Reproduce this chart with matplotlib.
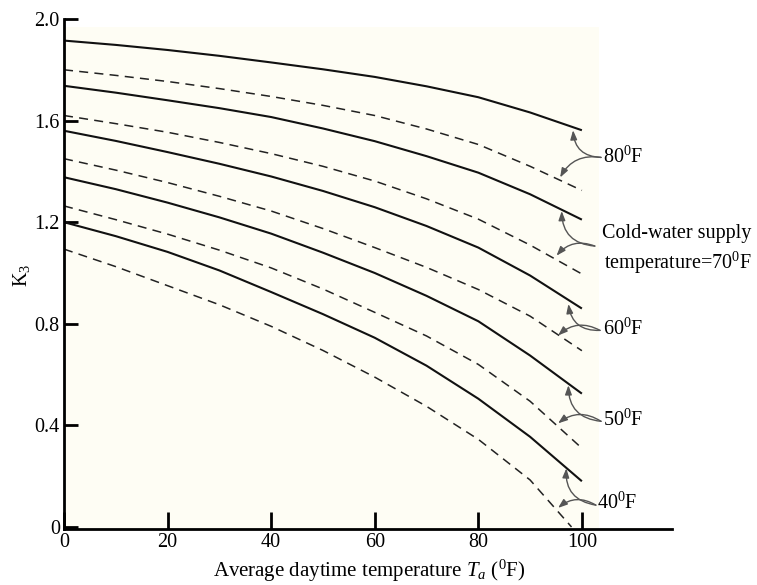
import matplotlib
matplotlib.use("Agg")
import matplotlib.pyplot as plt
from matplotlib.patches import Rectangle

plt.rcParams["font.family"] = ["Liberation Serif", "DejaVu Serif"]
plt.rcParams["mathtext.fontset"] = "custom"
plt.rcParams["mathtext.rm"] = "Liberation Serif"
plt.rcParams["mathtext.it"] = "Liberation Serif:italic"
plt.rcParams["lines.scale_dashes"] = False

# average daytime temperature (F)
temps = [0, 10, 20, 30, 40, 50, 60, 70, 80, 90, 100]
# K3, solid / dashed pair for each cold-water supply temperature
k3_80_solid = [1.915, 1.898, 1.878, 1.855, 1.829, 1.802, 1.772, 1.735, 1.692, 1.632, 1.562]
k3_80_dash = [1.800, 1.778, 1.754, 1.726, 1.695, 1.660, 1.620, 1.567, 1.506, 1.420, 1.325]
k3_70_solid = [1.737, 1.710, 1.680, 1.649, 1.614, 1.569, 1.519, 1.460, 1.395, 1.310, 1.210]
k3_70_dash = [1.620, 1.588, 1.554, 1.514, 1.470, 1.420, 1.362, 1.292, 1.212, 1.110, 0.996]
k3_60_solid = [1.560, 1.520, 1.476, 1.430, 1.380, 1.323, 1.259, 1.185, 1.100, 0.990, 0.860]
k3_60_dash = [1.450, 1.405, 1.356, 1.302, 1.244, 1.175, 1.100, 1.022, 0.935, 0.830, 0.694]
k3_50_solid = [1.377, 1.330, 1.277, 1.219, 1.155, 1.080, 1.000, 0.910, 0.810, 0.675, 0.525]
k3_50_dash = [1.264, 1.210, 1.153, 1.090, 1.020, 0.937, 0.845, 0.752, 0.640, 0.495, 0.310]
k3_40_solid = [1.200, 1.145, 1.083, 1.010, 0.925, 0.838, 0.745, 0.635, 0.505, 0.355, 0.180]
temps_40_dash = [0, 10, 20, 30, 40, 50, 60, 70, 80, 90, 98]
k3_40_dash = [1.094, 1.025, 0.950, 0.875, 0.790, 0.695, 0.590, 0.475, 0.345, 0.185, 0.0]

solid_curves = [k3_80_solid, k3_70_solid, k3_60_solid, k3_50_solid, k3_40_solid]
dashed_curves = [(temps, k3_80_dash), (temps, k3_70_dash), (temps, k3_60_dash),
                 (temps, k3_50_dash), (temps_40_dash, k3_40_dash)]

# labels and arrow ends
labels = ["80$^0$F", "Cold-water supply\ntemperature=70$^0$F", "60$^0$F", "50$^0$F", "40$^0$F"]
label_pos = [(104.1, 1.455), (132.8, 1.09), (104.1, 0.78), (104.1, 0.42), (102.9, 0.094)]
arrow_tails = [(103.7, 1.455), (102.5, 1.106), (103.5, 0.774), (103.7, 0.416), (102.7, 0.086)]
tips_solid = [(98.3, 1.562), (96.1, 1.244), (97.4, 0.878), (97.4, 0.558), (97.0, 0.231)]
tips_dash = [(95.8, 1.376), (95.1, 1.068), (95.4, 0.754), (95.4, 0.408), (95.4, 0.075)]

fig = plt.figure(figsize=(7.57, 5.85), dpi=100)
ax = fig.add_axes([64 / 757, 56 / 585, 608 / 757, 510 / 585])

# faint cream paper behind the curves
ax.add_patch(Rectangle((0, 0), 0.88, 0.985, transform=ax.transAxes,
                       facecolor="#fefdf4", edgecolor="none", zorder=0))

for ys in solid_curves:
    ax.plot(temps, ys, color="#111111", lw=1.5, solid_capstyle="butt",
            solid_joinstyle="round", zorder=2)
for xs, ys in dashed_curves:
    ax.plot(xs, ys, color="#222222", lw=1.1, dashes=(6.5, 4.5), zorder=2)

arrow_style = "-|>,head_length=0.55,head_width=0.2"
for i in range(len(labels)):
    ha = "right" if i == 1 else "left"
    ax.text(label_pos[i][0], label_pos[i][1], labels[i], fontsize=14.5, ha=ha, va="center",
            multialignment="right", linespacing=1.35, clip_on=False)
    ax.annotate("", xy=tips_solid[i], xytext=arrow_tails[i], annotation_clip=False,
                arrowprops=dict(arrowstyle=arrow_style, color="#555555", lw=1.0,
                                mutation_scale=10, shrinkA=0, shrinkB=0,
                                connectionstyle="arc3,rad=-0.45"))
    ax.annotate("", xy=tips_dash[i], xytext=arrow_tails[i], annotation_clip=False,
                arrowprops=dict(arrowstyle=arrow_style, color="#555555", lw=1.0,
                                mutation_scale=10, shrinkA=0, shrinkB=0,
                                connectionstyle="arc3,rad=0.35"))

ax.set_xlim(0, 117.4)
ax.set_ylim(-0.008, 2.0)
ax.set_xticks([0, 20, 40, 60, 80, 100])
ax.set_yticks([0, 0.4, 0.8, 1.2, 1.6, 2.0])
ax.set_yticklabels(["0", "0.4", "0.8", "1.2", "1.6", "2.0"])
ax.set_facecolor("none")
for side in ["top", "right"]:
    ax.spines[side].set_visible(False)
for side in ["left", "bottom"]:
    ax.spines[side].set_linewidth(2.0)
ax.tick_params(direction="in", width=2.0, labelsize=14.5, pad=3)
ax.tick_params(axis="x", length=12)
ax.tick_params(axis="y", length=10)

fig.text(369 / 757, 1 - 571 / 585, "Average daytime temperature $T_a$ ($^0$F)",
         fontsize=15, ha="center", va="center")
fig.text(22 / 757, 1 - 275 / 585, "K$_3$", fontsize=14.5, rotation=90, ha="center", va="center")

fig.savefig("out.png", dpi=100)
